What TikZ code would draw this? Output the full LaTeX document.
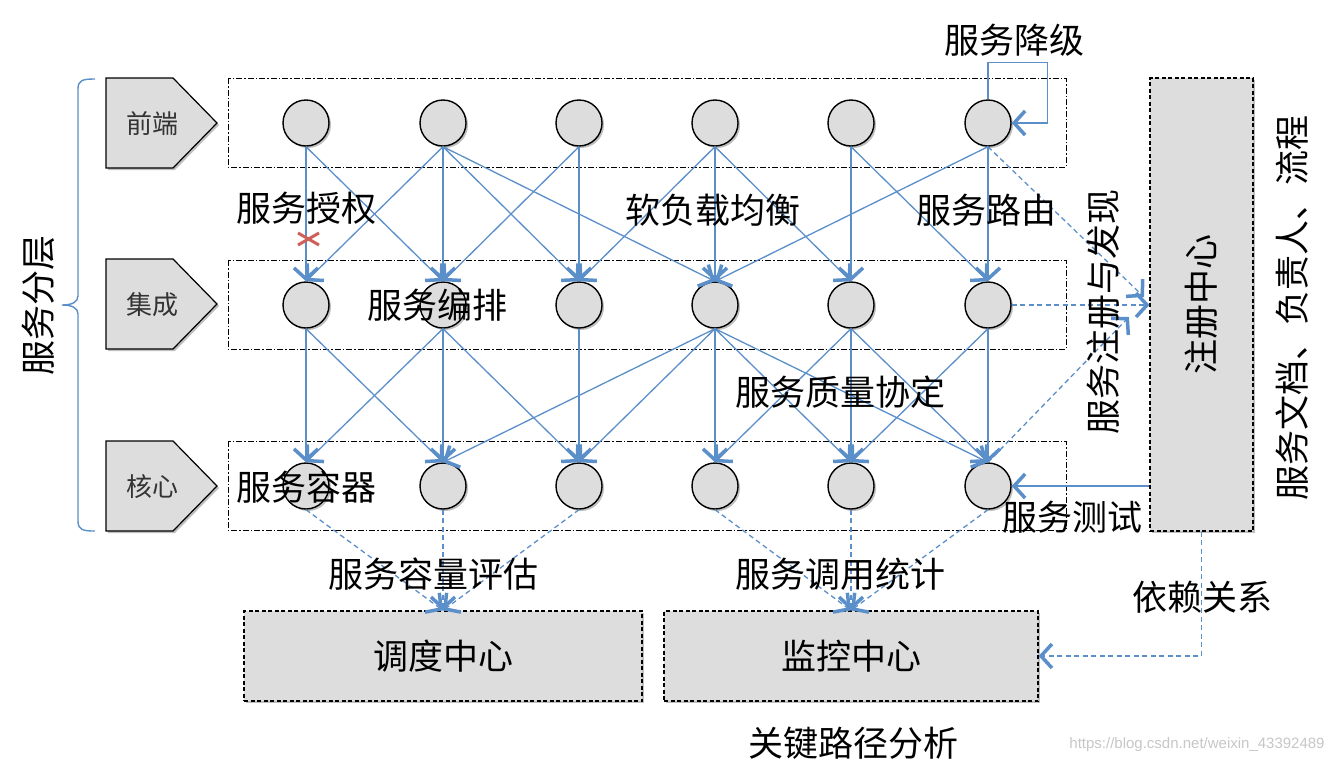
\documentclass[tikz,border=0pt]{standalone}
\usepackage{fontspec}
\setmainfont{Liberation Sans}
\newfontfamily\cjk{Noto Sans CJK SC}
\usetikzlibrary{arrows.meta,shadows,calc}
\definecolor{eblue}{RGB}{91,143,201}
\definecolor{nodegray}{RGB}{221,221,221}
\definecolor{xred}{RGB}{206,96,90}
\tikzset{
  shad/.style={drop shadow={shadow xshift=2pt,shadow yshift=-2pt,opacity=0.25,fill=black}},
  svc/.style={circle,draw=black,line width=1.4pt,fill=nodegray,minimum size=46pt,inner sep=0pt,shad},
  edge/.style={draw=eblue,line width=1.3pt,-{Straight Barb[length=11pt,width=24pt,line width=3.5pt]}},
  dedge/.style={edge,dash pattern=on 5pt off 3.5pt},
  layerbox/.style={draw=black,line width=0.9pt,dash pattern=on 6pt off 2pt on 1.5pt off 2pt},
  pent/.style={draw=black,line width=1.2pt,fill=nodegray,shad},
  center/.style={draw=black,line width=1.2pt,dash pattern=on 4pt off 2.5pt,fill=nodegray,shad,inner sep=0pt},
  lab/.style={font=\cjk\fontsize{35}{40}\selectfont,inner sep=0pt,text=black},
  slab/.style={font=\cjk\fontsize{26}{30}\selectfont,inner sep=0pt,text=black!80},
}
\begin{document}
\begin{tikzpicture}[x=1pt,y=-1pt]
\useasboundingbox[fill=white] (0,0) rectangle (1336,764);

% layer boxes
\draw[layerbox] (228,78) rectangle (1066,167);
\draw[layerbox] (228,260) rectangle (1066,349);
\draw[layerbox] (228,441) rectangle (1066,530);

% brace
\draw[eblue,line width=1.4pt] (95,79) .. controls (83,79) and (78,80) .. (78,89) -- (78,296)
  .. controls (78,302) and (72,305) .. (62,305)
  .. controls (72,305) and (78,308) .. (78,314) -- (78,521)
  .. controls (78,530) and (83,531) .. (95,531);
\node[lab,rotate=90] (layers) at (38,305) {服务分层};

% pentagons
\filldraw[pent] (106,78) -- (173,78) -- (217,123) -- (173,168) -- (106,168) -- cycle;
\filldraw[pent] (106,259) -- (173,259) -- (217,304) -- (173,349) -- (106,349) -- cycle;
\filldraw[pent] (106,441) -- (173,441) -- (217,486) -- (173,531) -- (106,531) -- cycle;
\node[slab] (l1) at (152,124) {前端};
\node[slab] (l2) at (152,305) {集成};
\node[slab] (l3) at (152,487) {核心};

% service nodes
\foreach \i/\x in {1/306,2/443,3/579,4/715,5/851,6/988}{
  \node[svc] (t\i) at (\x,123) {};
  \node[svc] (m\i) at (\x,305) {};
  \node[svc] (c\i) at (\x,486) {};
}

% centers
\node[center,minimum width=103pt,minimum height=453pt] (reg) at (1201.5,304.5) {};
\node[lab,rotate=90] (regt) at (reg.center) {注册中心};
\node[center,minimum width=398pt,minimum height=90pt,lab] (sched) at (443,656) {调度中心};
\node[center,minimum width=374pt,minimum height=90pt,lab] (mon) at (851,656) {监控中心};

% top -> middle
\foreach \a/\b in {1/1,1/2,2/1,2/2,2/3,2/4,3/2,3/3,4/3,4/4,4/5,5/5,5/6,6/4,6/6}{
  \draw[edge] (t\a.south) -- (m\b.north);
}
% middle -> core
\foreach \a/\b in {1/1,1/2,2/1,2/2,2/3,3/3,4/2,4/3,4/4,4/5,4/6,5/4,5/5,5/6,6/5,6/6}{
  \draw[edge] (m\a.south) -- (c\b.north);
}
% core -> centers
\foreach \a in {1,2,3}{ \draw[dedge] (c\a.south) -- (sched.north); }
\foreach \a in {4,5,6}{ \draw[dedge] (c\a.south) -- (mon.north); }

% self loop
\draw[edge] (t6.north) -- ($(t6.north)+(0,-37)$) -| ($(t6.east)+(36,0)$) -- (t6.east);

% registration
\coordinate (r1) at (1144,297);
\coordinate (r3) at (1129,317);
\draw[dedge] (t6.south) -- (r1);
\draw[dedge] (m6.east) -- (m6.east -| reg.west);
\draw[dedge] (c6.north) -- (r3);
\draw[edge] (c6.east -| reg.west) -- (c6.east);
\draw[dedge] (reg.south) |- (mon.east);

% red cross
\draw[xred,line width=3pt] (298,233) -- (319,245) (298,245) -- (319,233);

% labels
\node[lab] (lb1) at (1014,40) {服务降级};
\node[lab] (lb2) at (306,208) {服务授权};
\node[lab] (lb3) at (713,210) {软负载均衡};
\node[lab] (lb4) at (986,210) {服务路由};
\node[lab] (lb5) at (437,305) {服务编排};
\node[lab] (lb6) at (840,392) {服务质量协定};
\node[lab] (lb7) at (306,487) {服务容器};
\node[lab] (lb8) at (1072,517) {服务测试};
\node[lab] (lb9) at (433,574) {服务容量评估};
\node[lab] (lb10) at (840,574) {服务调用统计};
\node[lab] (lb11) at (1202,597) {依赖关系};
\node[lab] (lb12) at (853,743) {关键路径分析};
\node[lab,rotate=90] (lb13) at (1103,312) {服务注册与发现};
\node[lab,rotate=90] (lb14) at (1292,308) {服务文档、负责人、流程};
\node[font=\fontsize{15}{18}\selectfont,text=black!22,inner sep=0pt] (wm) at (1197,745) {https://blog.csdn.net/weixin\_43392489};
\end{tikzpicture}
\end{document}
